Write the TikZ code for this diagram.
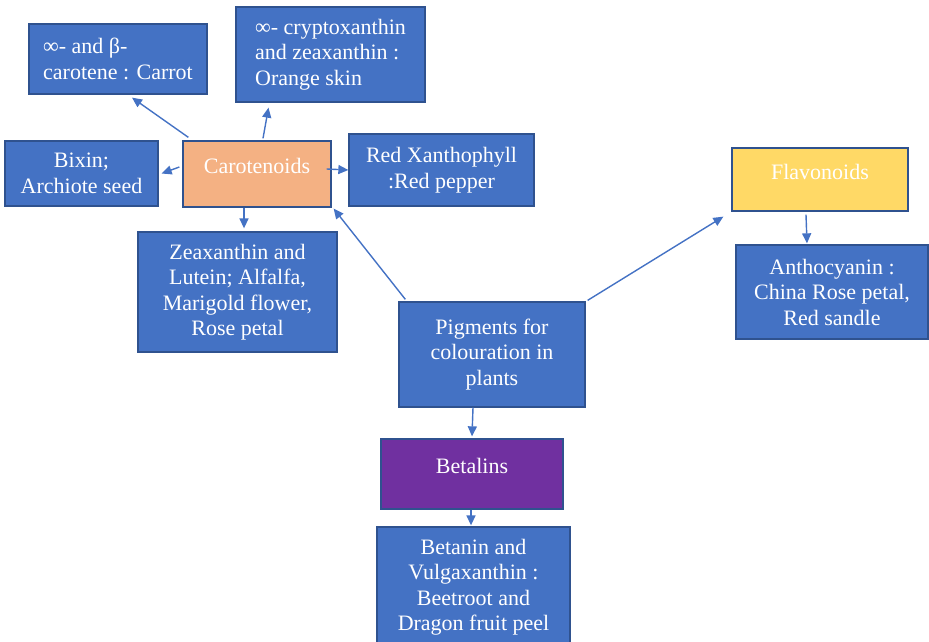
\documentclass[tikz,border=0pt]{standalone}
\usepackage{fontspec}
\setmainfont{Liberation Serif}
\usetikzlibrary{arrows.meta}

\definecolor{boxblue}{HTML}{4472C4}
\definecolor{edgeblue}{HTML}{2F528F}
\definecolor{carotcol}{HTML}{F4B183}
\definecolor{flavcol}{HTML}{FFD966}
\definecolor{betacol}{HTML}{7030A0}

\begin{document}
\begin{tikzpicture}[
    x=1pt, y=-1pt,
    pigment/.style={rectangle, draw=edgeblue, line width=1.3pt, fill=boxblue, text=white,
        inner sep=0pt, align=center, font=\fontsize{22}{25.5}\selectfont},
    group/.style={pigment, text height=15pt, text depth=16pt},
    arrow/.style={-{Triangle[width=9pt,length=10pt]}, draw=boxblue, line width=1.4pt}
]
\useasboundingbox (0,0) rectangle (929,642);

% Centre
\node[pigment, minimum width=186pt, minimum height=105pt] (pig) at (492,354.5)
    {Pigments for\\colouration in\\plants};

% Pigment groups
\node[group, fill=carotcol, minimum width=148pt, minimum height=66pt] (carot) at (257,174) {Carotenoids};
\node[group, fill=flavcol, minimum width=176pt, minimum height=63pt] (flav) at (820,179.5) {Flavonoids};
\node[group, fill=betacol, minimum width=182pt, minimum height=70pt] (betalins) at (472,474) {Betalins};

% Carotenoids
\node[pigment, align=left, minimum width=178pt, minimum height=70pt] (carrot) at (118,59)
    {∞- and β-\\carotene : Carrot};
\node[pigment, align=left, minimum width=189pt, minimum height=95pt] (cryptox) at (330.5,54.5)
    {∞- cryptoxanthin\\and zeaxanthin :\\Orange skin};
\node[pigment, minimum width=153pt, minimum height=65pt] (bixin) at (81.5,173.5)
    {Bixin;\\Archiote seed};
\node[pigment, minimum width=185pt, minimum height=72pt] (redx) at (441.5,170)
    {Red Xanthophyll\\:Red pepper};
\node[pigment, minimum width=199pt, minimum height=120pt] (zea) at (237.5,292)
    {Zeaxanthin and\\Lutein; Alfalfa,\\Marigold flower,\\Rose petal};

% Flavonoids
\node[pigment, minimum width=192pt, minimum height=94pt] (antho) at (832,292)
    {Anthocyanin :\\China Rose petal,\\Red sandle};

% Betalins
\node[pigment, minimum width=193pt, minimum height=120pt] (betanin) at (473.5,587)
    {Betanin and\\Vulgaxanthin :\\Beetroot and\\Dragon fruit peel};

% Links
\draw[arrow] ([xshift=-19pt]pig.south) -- ([yshift=2pt]betalins.north);
\draw[arrow] ([xshift=7pt,yshift=2pt]pig.north west) -- ([xshift=2pt,yshift=-1pt]carot.south east);
\draw[arrow] ([xshift=2pt,yshift=1pt]pig.north east) -- ([xshift=-8pt,yshift=-5pt]flav.south west);

\draw[arrow] ([xshift=6pt,yshift=3pt]carot.north west) -- ([xshift=14pt,yshift=-3pt]carrot.south);
\draw[arrow] ([xshift=6pt,yshift=2pt]carot.north) -- ([xshift=-62pt,yshift=-5pt]cryptox.south);
\draw[arrow] ([xshift=-3pt,yshift=7pt]carot.west) -- ([xshift=3pt]bixin.east);
\draw[arrow] ([xshift=-5pt,yshift=5pt]carot.east) -- (redx.west);
\draw[arrow] ([xshift=-13pt]carot.south) -- ([xshift=6.5pt,yshift=3pt]zea.north);

\draw[arrow] ([xshift=-14pt,yshift=-3pt]flav.south) -- ([xshift=-25pt,yshift=1pt]antho.north);
\draw[arrow] ([xshift=-1pt]betalins.south) -- ([xshift=-2.5pt,yshift=1pt]betanin.north);

\end{tikzpicture}
\end{document}
